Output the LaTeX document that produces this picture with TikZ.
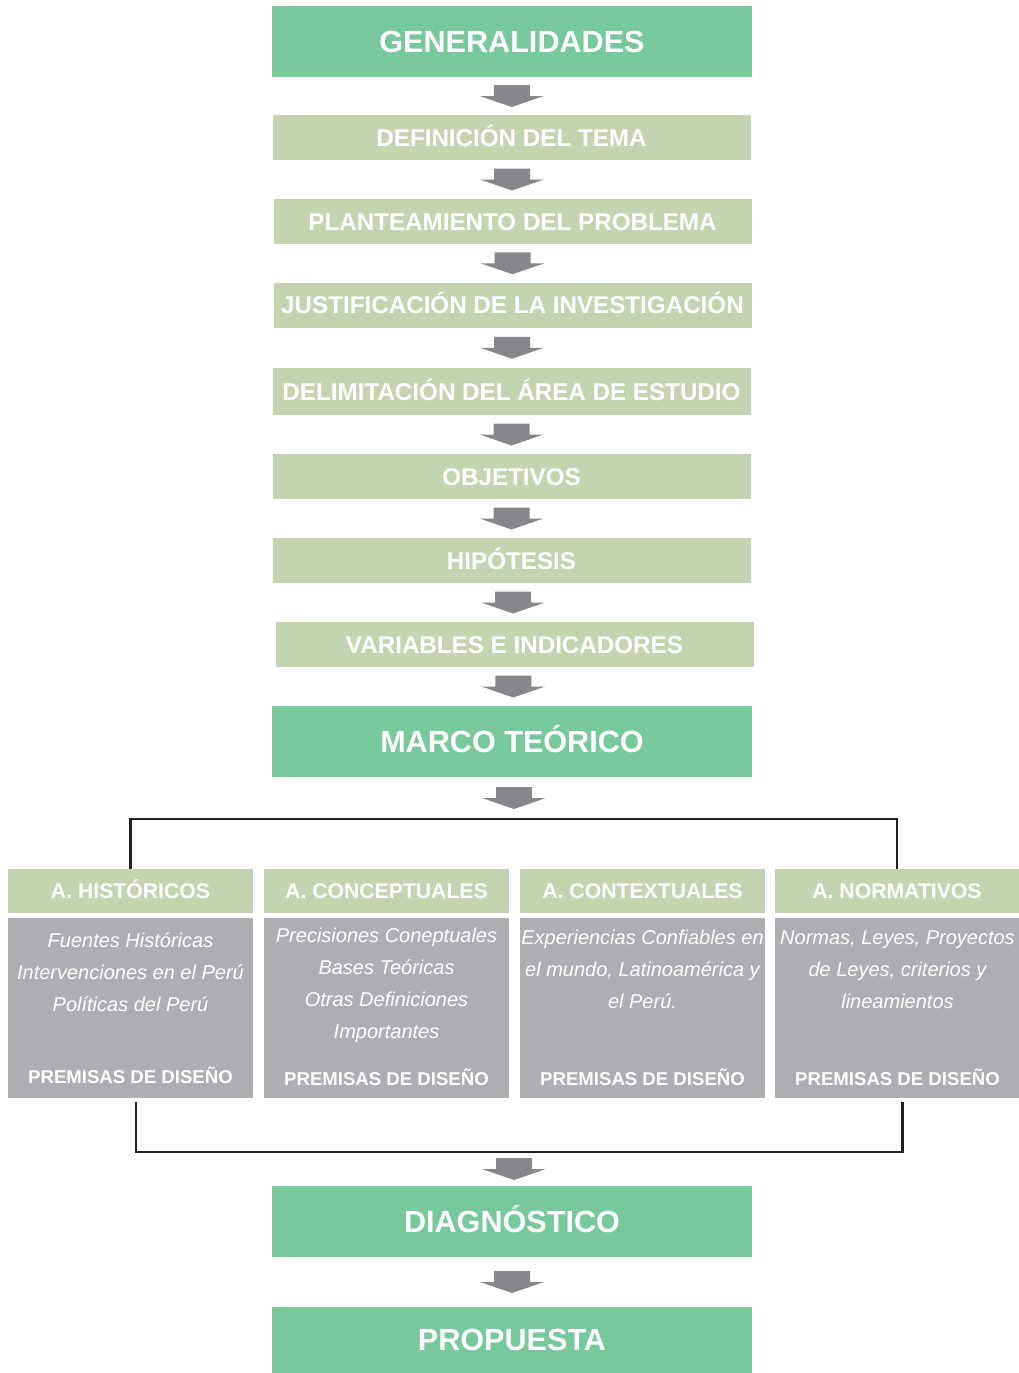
\documentclass[tikz,border=0pt]{standalone}
\usepackage{fontspec}
\setmainfont{Liberation Sans}
\usetikzlibrary{calc}
\definecolor{dkgreen}{RGB}{119,200,155}
\definecolor{ltgreen}{RGB}{197,212,176}
\definecolor{boxgray}{RGB}{173,174,177}
\definecolor{arrgray}{RGB}{134,135,139}
\definecolor{linecol}{RGB}{35,31,32}
\tikzset{
  capsbox/.style={text depth=0pt, inner sep=0, outer sep=0, text=white},
  mainbox/.style={capsbox, text height=21.9pt, fill=dkgreen, font=\fontsize{30.6}{36}\selectfont\bfseries, minimum width=480, minimum height=71},
  stepbox/.style={capsbox, text height=17.4pt, fill=ltgreen, font=\fontsize{24.2}{28}\selectfont\bfseries, minimum width=478, minimum height=45},
  headbox/.style={capsbox, text height=15.2pt, fill=ltgreen, font=\fontsize{21.2}{25}\selectfont\bfseries, minimum width=245, minimum height=44},
  graybox/.style={fill=boxgray, minimum width=245, minimum height=180, inner sep=0, outer sep=0},
  bodytext/.style={text=white, font=\fontsize{20}{32}\selectfont\itshape, align=center, inner sep=0},
  premtext/.style={capsbox, text height=13.3pt, font=\fontsize{18.6}{22}\selectfont\bfseries},
  arw/.style={fill=arrgray},
  bracket/.style={draw=linecol, line width=2.4pt},
}
\newcommand\flowarrow[2]{\fill[arw] ($(#1.south)!.5!(#2.north)$) ++(-18,-11) -- ++(36,0) -- ++(0,11) -- ++(14,0) -- ++(-32,11) -- ++(-32,-11) -- ++(14,0) -- cycle;}
\begin{document}
\begin{tikzpicture}[x=1pt,y=-1pt]
\useasboundingbox (0,0) rectangle (1019,1373);
\node[mainbox] (gen) at (512,41.5) {GENERALIDADES};
\node[stepbox] (def) at (511.5,137.5) {DEFINICIÓN DEL TEMA};
\node[stepbox] (pla) at (512.5,221.5) {PLANTEAMIENTO DEL PROBLEMA};
\node[stepbox] (jus) at (512.5,305) {JUSTIFICACIÓN DE LA INVESTIGACIÓN};
\node[stepbox, minimum height=47] (del) at (511.5,391.5) {DELIMITACIÓN DEL ÁREA DE ESTUDIO};
\node[stepbox] (obj) at (511.5,476.5) {OBJETIVOS};
\node[stepbox] (hip) at (511.5,560.5) {HIPÓTESIS};
\node[stepbox] (var) at (514.5,644.5) {VARIABLES E INDICADORES};
\node[mainbox] (mar) at (512,741.5) {MARCO TEÓRICO};
\flowarrow{gen}{def}
\flowarrow{def}{pla}
\flowarrow{pla}{jus}
\flowarrow{jus}{del}
\flowarrow{del}{obj}
\flowarrow{obj}{hip}
\flowarrow{hip}{var}
\flowarrow{var}{mar}
% columns
\node[headbox] (h1) at (130.5,891) {A. HISTÓRICOS};
\node[headbox] (h2) at (386.5,891) {A. CONCEPTUALES};
\node[headbox] (h3) at (642.5,891) {A. CONTEXTUALES};
\node[headbox, minimum width=244] (h4) at (897,891) {A. NORMATIVOS};
\node[graybox] (g1) at (130.5,1008) {};
\node[graybox] (g2) at (386.5,1008) {};
\node[graybox] (g3) at (642.5,1008) {};
\node[graybox, minimum width=244] (g4) at (897,1008) {};
\node[bodytext] (t1) at (130.5,972.5) {Fuentes Históricas\\Intervenciones en el Perú\\Políticas del Perú};
\node[bodytext] (t2) at (386.5,985.5) {Precisiones Coneptuales\\Bases Teóricas\\Otras Definiciones\\Importantes};
\node[bodytext] (t3) at (642.5,969.5) {Experiencias Confiables en\\el mundo, Latinoamérica y\\el Perú.};
\node[bodytext] (t4) at (897.5,969.5) {Normas, Leyes, Proyectos\\de Leyes, criterios y\\lineamientos};
\node[premtext] (p1) at (130.5,1077) {PREMISAS DE DISEÑO};
\node[premtext] (p2) at (386.5,1079) {PREMISAS DE DISEÑO};
\node[premtext] (p3) at (642.5,1079) {PREMISAS DE DISEÑO};
\node[premtext] (p4) at (897.5,1079) {PREMISAS DE DISEÑO};
% brackets
\coordinate (br1) at (514,819);
\coordinate (br2) at (514,1152);
\draw[bracket] (h1.north) |- (br1) -| (h4.north);
\draw[bracket] ([shift={(5.5,4)}]g1.south) |- (br2) -| ([shift={(5.5,4)}]g4.south);
\node[mainbox] (dia) at (512,1221.5) {DIAGNÓSTICO};
\node[mainbox, minimum height=66] (pro) at (512,1340) {PROPUESTA};
\fill[arw] (mar.south) ++(2,10) ++(-18,0) -- ++(36,0) -- ++(0,11) -- ++(14,0) -- ++(-32,11) -- ++(-32,-11) -- ++(14,0) -- cycle;
\fill[arw] (br2) ++(0,6) ++(-18,0) -- ++(36,0) -- ++(0,11) -- ++(14,0) -- ++(-32,11) -- ++(-32,-11) -- ++(14,0) -- cycle;
\flowarrow{dia}{pro}
\end{tikzpicture}
\end{document}
